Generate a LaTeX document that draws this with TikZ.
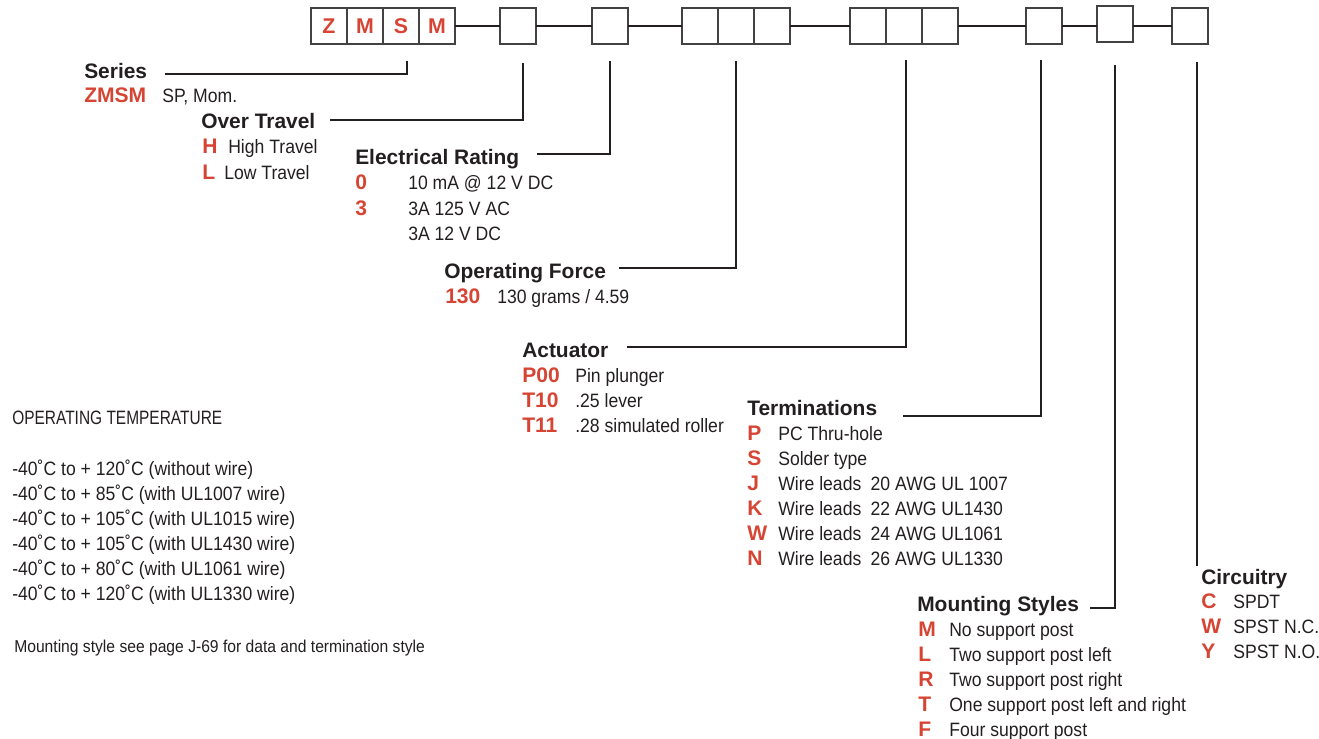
\documentclass[tikz,border=0pt]{standalone}
\usepackage{fontspec}
\setmainfont{Liberation Sans}
\newfontfamily\narrowfont[FakeStretch=0.91]{Liberation Sans}
\newfontfamily\capsfont[FakeStretch=0.8]{Liberation Sans}
\usetikzlibrary{positioning}
\definecolor{codered}{RGB}{214,69,52}
\definecolor{ink}{RGB}{35,31,32}
\tikzset{
  cell/.style={draw=ink!85, line width=1.1pt, minimum size=27pt, inner sep=0pt, outer sep=0pt,
    font=\fontsize{16}{19}\bfseries\selectfont, text=codered},
  head/.style={anchor=base west, inner sep=0pt, font=\fontsize{15.7}{19}\bfseries\selectfont, text=ink},
  code/.style={anchor=base west, inner sep=0pt, font=\fontsize{15.8}{19}\bfseries\selectfont, text=codered},
  desc/.style={anchor=base west, inner sep=0pt, font={\fontsize{14.5}{18}\narrowfont}, text=ink},
  note/.style={anchor=base west, inner sep=0pt, font={\fontsize{12.9}{16}\narrowfont}, text=ink},
  lead/.style={draw=ink, line width=0.9pt},
}
\begin{document}
\begin{tikzpicture}[x=0.75pt,y=0.75pt,yscale=-1,xscale=1]
\useasboundingbox (0,0) rectangle (1319,738);
%Shape: Rectangle
\node [cell] (z1) at (329,26) {Z};
\node [cell, right=0pt of z1] (z2) {M};
\node [cell, right=0pt of z2] (z3) {S};
\node [cell, right=0pt of z3] (z4) {M};
%Shape: Rectangle
\node [cell] (ot) at (518,26) {};
%Shape: Rectangle
\node [cell] (er) at (610,26) {};
%Shape: Rectangle
\node [cell] (of1) at (700,26) {};
\node [cell, right=0pt of of1] (of2) {};
\node [cell, right=0pt of of2] (of3) {};
%Shape: Rectangle
\node [cell] (ac1) at (868,26) {};
\node [cell, right=0pt of ac1] (ac2) {};
\node [cell, right=0pt of ac2] (ac3) {};
%Shape: Rectangle
\node [cell] (tm) at (1044,26) {};
%Shape: Rectangle
\node [cell] (ms) at (1115,24) {};
%Shape: Rectangle
\node [cell] (cr) at (1190,26) {};
%Straight Lines
\draw [lead] (z4) -- (ot);
\draw [lead] (ot) -- (er);
\draw [lead] (er) -- (of1);
\draw [lead] (of3) -- (ac1);
\draw [lead] (ac3) -- (tm);
\draw [lead] (tm.east) -- (tm.east -| ms.west);
\draw [lead] (ms.east |- cr.west) -- (cr.west);
% leader ends
\coordinate (serA) at (165,74);   \coordinate (serB) at (407,61);
\coordinate (otA) at (330,120);   \coordinate (otB) at (523,63);
\coordinate (erA) at (537,154);   \coordinate (erB) at (610,61);
\coordinate (ofA) at (619,268);   \coordinate (ofB) at (736,61);
\coordinate (acA) at (627,347);   \coordinate (acB) at (906,60);
\coordinate (tmA) at (903,416);   \coordinate (tmB) at (1041,60);
\coordinate (msA) at (1090,608);  \coordinate (msB) at (1115,65);
\coordinate (crA) at (1197,62);   \coordinate (crB) at (1197,566);
%Straight Lines
\draw [lead] (serA) -| (serB);
\draw [lead] (otA) -| (otB);
\draw [lead] (erA) -| (erB);
\draw [lead] (ofA) -| (ofB);
\draw [lead] (acA) -| (acB);
\draw [lead] (tmA) -| (tmB);
\draw [lead] (msA) -| (msB);
\draw [lead] (crA) -- (crB);
% Text Node
\draw (84,79) node (series) [head] {Series};
\draw (84,103) node (serZ) [code] {ZMSM};
\draw (162,103) node (serZt) [desc] {SP, Mom.};
% Text Node
\draw (201,129) node (overtravel) [head] {Over Travel};
\draw (202,154) node (otH) [code] {H};
\draw (228,154) node (otHt) [desc] {High Travel};
\draw (202,179) node (otL) [code] {L};
\draw (224,179) node (otLt) [desc] {Low Travel};
% Text Node
\draw (355,165) node (rating) [head] {Electrical Rating};
\draw (355,190) node (er0) [code] {0};
\draw (408,190) node (er0t) [desc] {10 mA @ 12 V DC};
\draw (355,215) node (er3) [code] {3};
\draw (408,215) node (er3t) [desc] {3A 125 V AC};
\draw (408,240) node (er3u) [desc] {3A 12 V DC};
% Text Node
\draw (444,278) node (force) [head] {Operating Force};
\draw (445,303) node (of130) [code] {130};
\draw (497,303) node (of130t) [desc] {130 grams / 4.59};
% Text Node
\draw (522,357) node (actuator) [head] {Actuator};
\draw (522,382) node (acP) [code] {P00};
\draw (575,382) node (acPt) [desc] {Pin plunger};
\draw (522,407) node (acT1) [code] {T10};
\draw (575,407) node (acT1t) [desc] {.25 lever};
\draw (522,432) node (acT2) [code] {T11};
\draw (575,432) node (acT2t) [desc] {.28 simulated roller};
% Text Node
\draw (747,415) node (terms) [head] {Terminations};
\draw (747,440) node (tmP) [code] {P};
\draw (778,440) node (tmPt) [desc] {PC Thru-hole};
\draw (747,465) node (tmS) [code] {S};
\draw (778,465) node (tmSt) [desc] {Solder type};
\draw (747,490) node (tmJ) [code] {J};
\draw (778,490) node (tmJt) [desc] {Wire leads\hspace{7pt}20 AWG UL 1007};
\draw (747,515) node (tmK) [code] {K};
\draw (778,515) node (tmKt) [desc] {Wire leads\hspace{7pt}22 AWG UL1430};
\draw (747,540) node (tmW) [code] {W};
\draw (778,540) node (tmWt) [desc] {Wire leads\hspace{7pt}24 AWG UL1061};
\draw (747,565) node (tmN) [code] {N};
\draw (778,565) node (tmNt) [desc] {Wire leads\hspace{7pt}26 AWG UL1330};
% Text Node
\draw (917,611) node (mounting) [head] {Mounting Styles};
\draw (918,636) node (msM) [code] {M};
\draw (949,636) node (msMt) [desc] {No support post};
\draw (918,661) node (msL) [code] {L};
\draw (949,661) node (msLt) [desc] {Two support post left};
\draw (918,686) node (msR) [code] {R};
\draw (949,686) node (msRt) [desc] {Two support post right};
\draw (918,711) node (msT) [code] {T};
\draw (949,711) node (msTt) [desc] {One support post left and right};
\draw (918,736) node (msF) [code] {F};
\draw (949,736) node (msFt) [desc] {Four support post};
% Text Node
\draw (1201,584) node (circuit) [head] {Circuitry};
\draw (1201,608) node (crC) [code] {C};
\draw (1233,608) node (crCt) [desc] {SPDT};
\draw (1201,633) node (crW) [code] {W};
\draw (1233,633) node (crWt) [desc] {SPST N.C.};
\draw (1201,658) node (crY) [code] {Y};
\draw (1233,658) node (crYt) [desc] {SPST N.O.};
% Text Node
\draw (12,424) node (temp) [desc, font={\fontsize{14.5}{18}\capsfont}] {OPERATING TEMPERATURE};
\draw (12,475) node (temp1) [desc] {-40˚C to + 120˚C (without wire)};
\draw (12,500) node (temp2) [desc] {-40˚C to + 85˚C (with UL1007 wire)};
\draw (12,525) node (temp3) [desc] {-40˚C to + 105˚C (with UL1015 wire)};
\draw (12,550) node (temp4) [desc] {-40˚C to + 105˚C (with UL1430 wire)};
\draw (12,575) node (temp5) [desc] {-40˚C to + 80˚C (with UL1061 wire)};
\draw (12,600) node (temp6) [desc] {-40˚C to + 120˚C (with UL1330 wire)};
% Text Node
\draw (14,652) node (mnote) [note] {Mounting style see page J-69 for data and termination style};
\end{tikzpicture}
\end{document}
